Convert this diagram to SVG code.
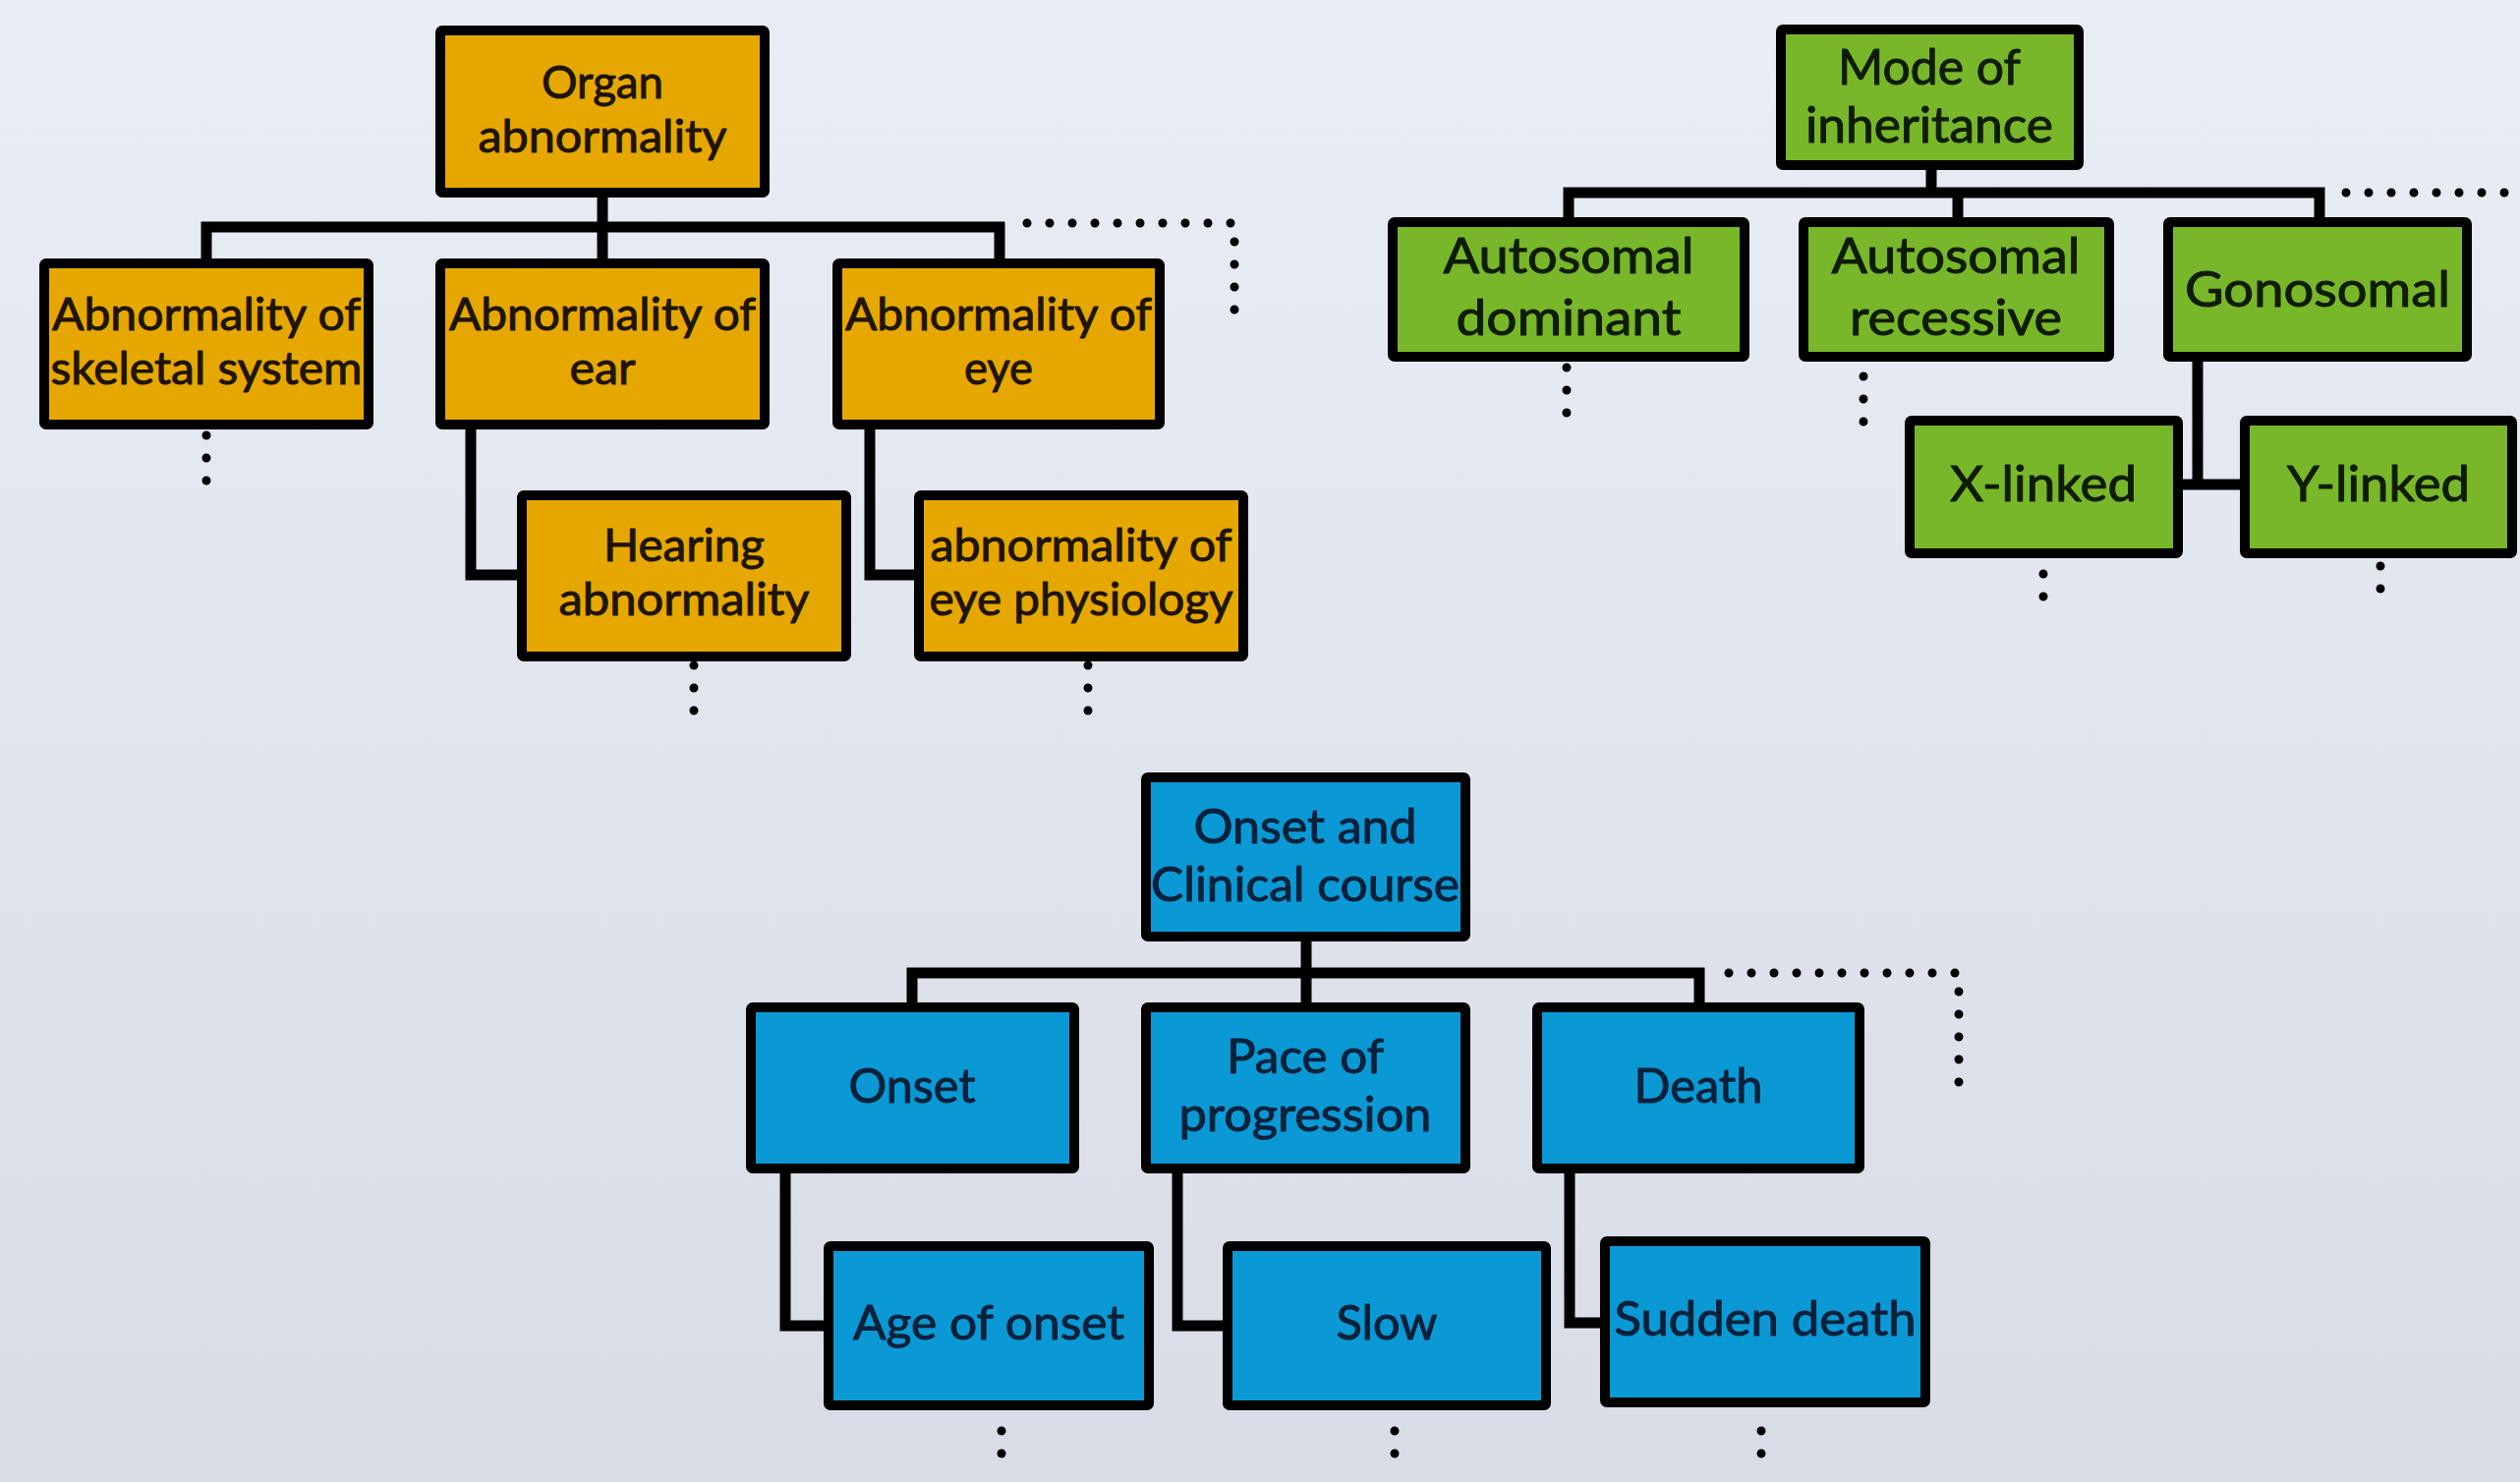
<svg xmlns="http://www.w3.org/2000/svg" width="2564" height="1508" viewBox="0 0 2564 1508">
<defs>
<linearGradient id="bg" x1="0" y1="0" x2="0" y2="1">
<stop offset="0" stop-color="#e9edf5"/>
<stop offset="1" stop-color="#d8dce6"/>
</linearGradient>
<style>
.box{stroke:#000;stroke-width:10;stroke-linejoin:round}
.o{fill:#e6a800}
.g{fill:#78b72a}
.b{fill:#0a99d5}
.t{font-family:Lato,"Open Sans","Liberation Sans",sans-serif;text-anchor:middle;stroke-width:1;stroke-linejoin:round}
.to{font-size:46px;fill:#1e1400;stroke:#1e1400}
.tg{font-size:50px;fill:#0f1c00;stroke:#0f1c00}
.tb{font-size:48px;fill:#08213a;stroke:#08213a}
.ln{fill:none;stroke:#000;stroke-width:11;stroke-linejoin:miter;stroke-linecap:butt}
.dt{fill:none;stroke:#000;stroke-width:9;stroke-linecap:round;stroke-dasharray:0 23}
</style>
</defs>
<rect x="0" y="0" width="2564" height="1508" fill="url(#bg)"/>

<g id="connectors">
<path class="ln" d="M613 201V231M210 268V231H1017V268M613 231V268"/>
<path class="ln" d="M479 437V585H531M885 437V585H935"/>
<path class="dt" d="M1045 227H1256V321"/>
<path class="dt" d="M210 443V491M706 677V725M1107 677V725"/>

<path class="ln" d="M1965 173V196M1596 226V196H2360V226M1992 196V226"/>
<path class="ln" d="M2236 368V493M2221 493H2284"/>
<path class="dt" d="M2387 196H2564"/>
<path class="dt" d="M1594 374V421M1896 383V430M2079 584V630M2422 576V622"/>

<path class="ln" d="M1329 958V990M928 1025V990H1729V1025M1329 990V1025"/>
<path class="ln" d="M799 1194V1349H843M1198 1194V1349H1249M1597 1194V1346H1633"/>
<path class="dt" d="M1759 990H1993V1108"/>
<path class="dt" d="M1019 1456V1502M1419 1456V1502M1792 1456V1502"/>
</g>

<g id="organ-abnormality">
<rect class="box o" x="448" y="31" width="330" height="165" rx="2"/>
<text class="t to" x="613" y="100" textLength="124" lengthAdjust="spacingAndGlyphs">Organ</text>
<text class="t to" x="613" y="155" textLength="253" lengthAdjust="spacingAndGlyphs">abnormality</text>
</g>
<g id="abnormality-skeletal">
<rect class="box o" x="45" y="268" width="330" height="164" rx="2"/>
<text class="t to" x="210" y="336" textLength="314" lengthAdjust="spacingAndGlyphs">Abnormality of</text>
<text class="t to" x="210" y="391" textLength="317" lengthAdjust="spacingAndGlyphs">skeletal system</text>
</g>
<g id="abnormality-ear">
<rect class="box o" x="448" y="268" width="330" height="164" rx="2"/>
<text class="t to" x="613" y="336" textLength="312" lengthAdjust="spacingAndGlyphs">Abnormality of</text>
<text class="t to" x="613" y="391" textLength="67" lengthAdjust="spacingAndGlyphs">ear</text>
</g>
<g id="abnormality-eye">
<rect class="box o" x="852" y="268" width="328" height="164" rx="2"/>
<text class="t to" x="1016" y="336" textLength="312" lengthAdjust="spacingAndGlyphs">Abnormality of</text>
<text class="t to" x="1016" y="391" textLength="70" lengthAdjust="spacingAndGlyphs">eye</text>
</g>
<g id="hearing-abnormality">
<rect class="box o" x="531" y="504" width="330" height="164" rx="2"/>
<text class="t to" x="696" y="571" textLength="164" lengthAdjust="spacingAndGlyphs">Hearing</text>
<text class="t to" x="696" y="626" textLength="255" lengthAdjust="spacingAndGlyphs">abnormality</text>
</g>
<g id="eye-physiology">
<rect class="box o" x="935" y="504" width="330" height="164" rx="2"/>
<text class="t to" x="1100" y="571" textLength="307" lengthAdjust="spacingAndGlyphs">abnormality of</text>
<text class="t to" x="1100" y="626" textLength="309" lengthAdjust="spacingAndGlyphs">eye physiology</text>
</g>

<g id="mode-of-inheritance">
<rect class="box g" x="1812" y="30" width="303" height="138" rx="2"/>
<text class="t tg" x="1963" y="86" textLength="186" lengthAdjust="spacingAndGlyphs">Mode of</text>
<text class="t tg" x="1963" y="145" textLength="252" lengthAdjust="spacingAndGlyphs">inheritance</text>
</g>
<g id="autosomal-dominant">
<rect class="box g" x="1417" y="226" width="358" height="137" rx="2"/>
<text class="t tg" x="1596" y="278" textLength="255" lengthAdjust="spacingAndGlyphs">Autosomal</text>
<text class="t tg" x="1596" y="341" textLength="229" lengthAdjust="spacingAndGlyphs">dominant</text>
</g>
<g id="autosomal-recessive">
<rect class="box g" x="1835" y="226" width="311" height="137" rx="2"/>
<text class="t tg" x="1990" y="278" textLength="253" lengthAdjust="spacingAndGlyphs">Autosomal</text>
<text class="t tg" x="1990" y="341" textLength="216" lengthAdjust="spacingAndGlyphs">recessive</text>
</g>
<g id="gonosomal">
<rect class="box g" x="2206" y="226" width="304" height="137" rx="2"/>
<text class="t tg" x="2358" y="312" textLength="270" lengthAdjust="spacingAndGlyphs">Gonosomal</text>
</g>
<g id="x-linked">
<rect class="box g" x="1943" y="428" width="273" height="135" rx="2"/>
<text class="t tg" x="2079" y="510" textLength="190" lengthAdjust="spacingAndGlyphs">X-linked</text>
</g>
<g id="y-linked">
<rect class="box g" x="2284" y="428" width="272" height="135" rx="2"/>
<text class="t tg" x="2420" y="510" textLength="186" lengthAdjust="spacingAndGlyphs">Y-linked</text>
</g>

<g id="onset-clinical-course">
<rect class="box b" x="1166" y="791" width="325" height="162" rx="2"/>
<text class="t tb" x="1328" y="858" textLength="227" lengthAdjust="spacingAndGlyphs">Onset and</text>
<text class="t tb" x="1328" y="917" textLength="314" lengthAdjust="spacingAndGlyphs">Clinical course</text>
</g>
<g id="onset">
<rect class="box b" x="764" y="1025" width="329" height="164" rx="2"/>
<text class="t tb" x="928" y="1122" textLength="129" lengthAdjust="spacingAndGlyphs">Onset</text>
</g>
<g id="pace-of-progression">
<rect class="box b" x="1166" y="1025" width="325" height="164" rx="2"/>
<text class="t tb" x="1328" y="1092" textLength="160" lengthAdjust="spacingAndGlyphs">Pace of</text>
<text class="t tb" x="1328" y="1151" textLength="257" lengthAdjust="spacingAndGlyphs">progression</text>
</g>
<g id="death">
<rect class="box b" x="1564" y="1025" width="328" height="164" rx="2"/>
<text class="t tb" x="1728" y="1122" textLength="131" lengthAdjust="spacingAndGlyphs">Death</text>
</g>
<g id="age-of-onset">
<rect class="box b" x="843" y="1268" width="326" height="162" rx="2"/>
<text class="t tb" x="1006" y="1363" textLength="276" lengthAdjust="spacingAndGlyphs">Age of onset</text>
</g>
<g id="slow">
<rect class="box b" x="1249" y="1268" width="324" height="162" rx="2"/>
<text class="t tb" x="1411" y="1363" textLength="103" lengthAdjust="spacingAndGlyphs">Slow</text>
</g>
<g id="sudden-death">
<rect class="box b" x="1633" y="1263" width="326" height="164" rx="2"/>
<text class="t tb" x="1796" y="1359" textLength="307" lengthAdjust="spacingAndGlyphs">Sudden death</text>
</g>
</svg>
